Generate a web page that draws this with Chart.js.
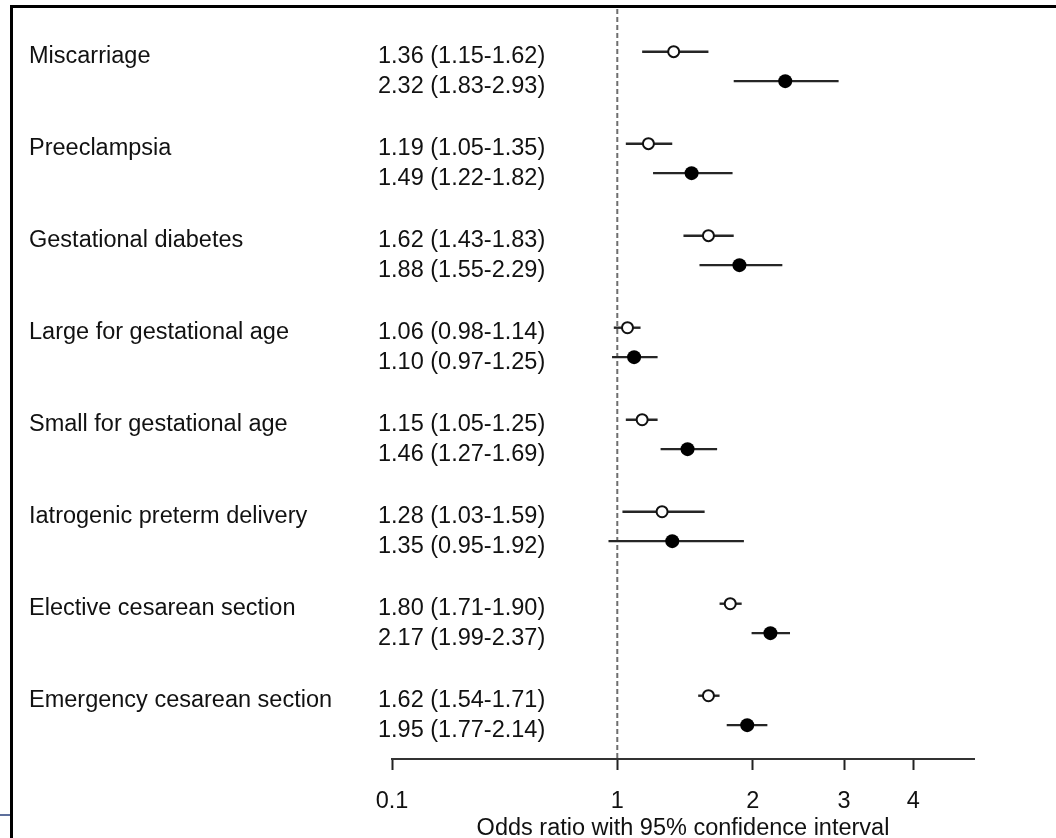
<!DOCTYPE html>
<html>
<head>
<meta charset="utf-8">
<title>Odds ratios with 95% confidence intervals</title>
<script src="https://cdn.jsdelivr.net/npm/chart.js@4.4.1/dist/chart.umd.min.js"></script>
<style>
  html, body { margin: 0; padding: 0; background: #fff; }
  #wrap { position: relative; width: 1056px; height: 838px; overflow: hidden; background: #fff; }
  #wrap canvas { display: block; }
  #frame { position: absolute; left: 10px; top: 5px; width: 1100px; height: 900px;
           border-left: 3px solid #000; border-top: 3px solid #000; pointer-events: none; }
  #edge { position: absolute; left: 0; top: 814px; width: 10px; height: 2px; background: #5d6f9c; }
</style>
</head>
<body>
<div id="wrap">
  <canvas id="forest" width="1056" height="838"></canvas>
  <div id="frame"></div>
  <div id="edge"></div>
</div>
<script>
// Outcomes, one group per row pair
const outcomes = [
  'Miscarriage',
  'Preeclampsia',
  'Gestational diabetes',
  'Large for gestational age',
  'Small for gestational age',
  'Iatrogenic preterm delivery',
  'Elective cesarean section',
  'Emergency cesarean section'
];

// Upper row of each group (open circles)
const orOpen = [1.36, 1.19, 1.62, 1.06, 1.15, 1.28, 1.80, 1.62];
const loOpen = [1.15, 1.05, 1.43, 0.98, 1.05, 1.03, 1.71, 1.54];
const hiOpen = [1.62, 1.35, 1.83, 1.14, 1.25, 1.59, 1.90, 1.71];

// Lower row of each group (filled circles)
const orFilled = [2.32, 1.49, 1.88, 1.10, 1.46, 1.35, 2.17, 1.95];
const loFilled = [1.83, 1.22, 1.55, 0.97, 1.27, 0.95, 1.99, 1.77];
const hiFilled = [2.93, 1.82, 2.29, 1.25, 1.69, 1.92, 2.37, 2.14];

// Axis
const xTickValues = [0.1, 1, 2, 3, 4];
const xMin = 0.1;
const xMax = 5.1;
const nullValue = 1;
const axisTitle = 'Odds ratio with 95% confidence interval';

// Vertical layout in group units: second row sits a fraction below the first
const SUB = 0.32;
const Y_MIN = -0.464;
const Y_MAX = 7.688;

const FONT_FAMILY = '"Liberation Sans", Arial, Helvetica, sans-serif';
const FONT_SIZE = 23.5;
const INK = '#111';

// Compressed ratio axis: position follows ln(value + SHIFT)
const SHIFT = 0.65;
class ShiftedLogScale extends Chart.LinearScale {
  _t(v) { return Math.log(v + SHIFT); }
  getPixelForValue(value) {
    const a = this._t(this.min), b = this._t(this.max);
    return this.getPixelForDecimal((this._t(value) - a) / (b - a));
  }
  getValueForPixel(pixel) {
    const a = this._t(this.min), b = this._t(this.max);
    return Math.exp(a + this.getDecimalForPixel(pixel) * (b - a)) - SHIFT;
  }
}
ShiftedLogScale.id = 'shiftedLog';
ShiftedLogScale.defaults = {};
Chart.register(ShiftedLogScale);

const fmt = (v) => v.toFixed(2);
const ciText = (o, l, h) => `${fmt(o)} (${fmt(l)}-${fmt(h)})`;

// Datasets
const openPoints = orOpen.map((v, g) => ({ x: v, y: g }));
const filledPoints = orFilled.map((v, g) => ({ x: v, y: g + SUB }));

const whiskers = [];
outcomes.forEach((_, g) => {
  whiskers.push([{ x: loOpen[g], y: g }, { x: hiOpen[g], y: g }]);
  whiskers.push([{ x: loFilled[g], y: g + SUB }, { x: hiFilled[g], y: g + SUB }]);
});

const datasets = [
  {
    label: 'open', data: openPoints, order: 0,
    pointRadius: 5.5, pointHoverRadius: 5.5, pointBorderWidth: 2,
    pointBackgroundColor: '#fff', pointBorderColor: INK, showLine: false
  },
  {
    label: 'filled', data: filledPoints, order: 0,
    pointRadius: 7, pointHoverRadius: 7, pointBorderWidth: 0,
    pointBackgroundColor: '#000', pointBorderColor: '#000', showLine: false
  },
  ...whiskers.map((seg) => ({
    label: 'ci', data: seg, order: 1, showLine: true,
    borderColor: '#262626', borderWidth: 2.4, pointRadius: 0, pointHoverRadius: 0
  })),
  {
    label: 'null', order: 2, showLine: true,
    data: [{ x: nullValue, y: Y_MIN }, { x: nullValue, y: Y_MAX }],
    borderColor: '#6e6e6e', borderWidth: 2, borderDash: [5, 3], pointRadius: 0, pointHoverRadius: 0
  }
];

// Row labels: outcome names and the estimate with its interval
const rowText = {
  id: 'rowText',
  afterDatasetsDraw(chart) {
    const { ctx, scales: { y } } = chart;
    const dy = 11.5;
    ctx.save();
    ctx.font = `${FONT_SIZE}px ${FONT_FAMILY}`;
    ctx.fillStyle = INK;
    ctx.textAlign = 'left';
    ctx.textBaseline = 'alphabetic';
    outcomes.forEach((name, g) => {
      const pa = y.getPixelForValue(g);
      const pb = y.getPixelForValue(g + SUB);
      ctx.fillText(name, 29, pa + dy);
      ctx.fillText(ciText(orOpen[g], loOpen[g], hiOpen[g]), 378, pa + dy);
      ctx.fillText(ciText(orFilled[g], loFilled[g], hiFilled[g]), 378, pb + dy);
    });
    ctx.restore();
  }
};

new Chart(document.getElementById('forest'), {
  type: 'scatter',
  data: { datasets },
  options: {
    responsive: false,
    animation: false,
    layout: { padding: { left: 392, right: 82, top: 9, bottom: 0 } },
    plugins: { legend: { display: false }, tooltip: { enabled: false } },
    scales: {
      x: {
        type: 'shiftedLog',
        position: 'bottom',
        min: xMin,
        max: xMax,
        bounds: 'data',
        afterBuildTicks(scale) { scale.ticks = xTickValues.map((v) => ({ value: v })); },
        afterFit(scale) { scale.height = 79; },
        border: { display: true, color: '#333', width: 2 },
        grid: { display: true, drawOnChartArea: false, drawTicks: true, tickLength: 11, tickWidth: 2, tickColor: '#222' },
        ticks: {
          autoSkip: false, maxRotation: 0, padding: 17, color: INK,
          font: { family: FONT_FAMILY, size: FONT_SIZE },
          callback: (v) => String(v)
        },
        title: {
          display: true, text: axisTitle, color: INK,
          font: { family: FONT_FAMILY, size: FONT_SIZE },
          padding: { top: 0, bottom: -5 }
        }
      },
      y: {
        type: 'linear',
        display: false,
        reverse: true,
        min: Y_MIN,
        max: Y_MAX
      }
    }
  },
  plugins: [rowText]
});
</script>
</body>
</html>
